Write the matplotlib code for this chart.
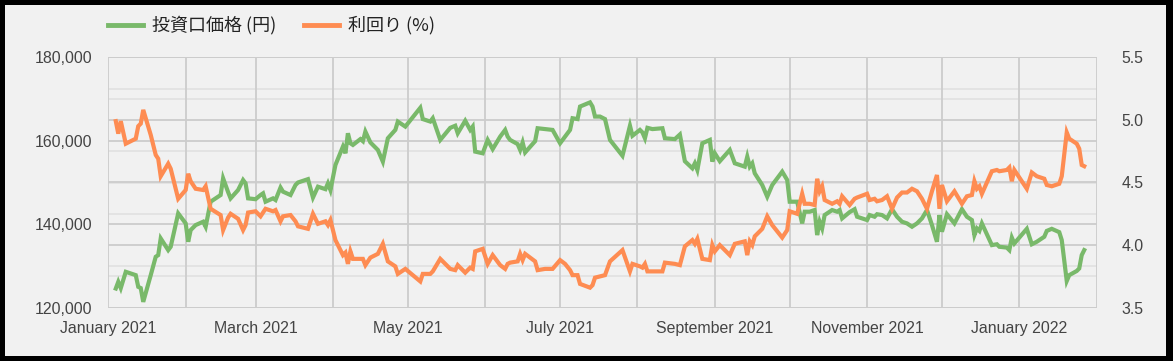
import matplotlib
matplotlib.use("Agg")
import matplotlib.pyplot as plt
from matplotlib.patches import Rectangle
from matplotlib.lines import Line2D
from matplotlib.transforms import blended_transform_factory
import pandas as pd

# ---------------- data ----------------
dates = [
    "2021-01-04", "2021-01-05", "2021-01-06", "2021-01-08", "2021-01-12", "2021-01-13", "2021-01-14", "2021-01-15",
    "2021-01-18", "2021-01-20", "2021-01-21", "2021-01-22", "2021-01-25", "2021-01-26", "2021-01-29",
    "2021-02-01", "2021-02-02", "2021-02-03", "2021-02-05", "2021-02-08", "2021-02-09", "2021-02-11",
    "2021-02-15", "2021-02-16", "2021-02-18", "2021-02-19", "2021-02-22", "2021-02-24", "2021-02-25", "2021-02-26",
    "2021-03-01", "2021-03-03", "2021-03-04", "2021-03-05", "2021-03-08", "2021-03-09", "2021-03-11", "2021-03-12",
    "2021-03-15", "2021-03-17", "2021-03-18", "2021-03-22", "2021-03-24", "2021-03-26", "2021-03-29", "2021-03-30",
    "2021-03-31", "2021-04-02", "2021-04-05", "2021-04-06", "2021-04-07", "2021-04-08", "2021-04-09", "2021-04-12",
    "2021-04-13", "2021-04-14", "2021-04-16", "2021-04-19", "2021-04-21", "2021-04-23", "2021-04-26", "2021-04-27",
    "2021-04-30", "2021-05-06", "2021-05-07", "2021-05-10", "2021-05-11", "2021-05-14", "2021-05-18", "2021-05-20",
    "2021-05-21", "2021-05-24", "2021-05-26", "2021-05-27", "2021-05-28", "2021-05-31", "2021-06-02", "2021-06-04",
    "2021-06-07", "2021-06-09", "2021-06-10", "2021-06-11", "2021-06-14", "2021-06-15", "2021-06-16", "2021-06-17",
    "2021-06-21", "2021-06-22", "2021-06-25", "2021-06-28", "2021-07-01", "2021-07-03", "2021-07-05", "2021-07-06",
    "2021-07-08", "2021-07-09", "2021-07-13", "2021-07-14", "2021-07-15", "2021-07-17", "2021-07-19", "2021-07-21",
    "2021-07-26", "2021-07-29", "2021-07-30", "2021-08-02", "2021-08-03", "2021-08-04", "2021-08-05", "2021-08-07",
    "2021-08-11", "2021-08-12", "2021-08-16", "2021-08-18", "2021-08-20", "2021-08-23", "2021-08-24", "2021-08-25",
    "2021-08-27", "2021-08-30", "2021-08-31", "2021-09-01", "2021-09-03", "2021-09-07", "2021-09-09", "2021-09-13",
    "2021-09-14", "2021-09-15", "2021-09-16", "2021-09-17", "2021-09-20", "2021-09-22", "2021-09-24", "2021-09-28",
    "2021-09-30", "2021-10-01", "2021-10-04", "2021-10-06", "2021-10-07", "2021-10-09", "2021-10-11", "2021-10-12",
    "2021-10-13", "2021-10-14", "2021-10-15", "2021-10-18", "2021-10-20", "2021-10-21", "2021-10-22", "2021-10-25",
    "2021-10-27", "2021-10-28", "2021-11-01", "2021-11-02", "2021-11-04", "2021-11-05", "2021-11-07", "2021-11-09",
    "2021-11-11", "2021-11-13", "2021-11-15", "2021-11-17", "2021-11-19", "2021-11-21", "2021-11-23", "2021-11-25",
    "2021-11-27", "2021-11-29", "2021-11-30", "2021-12-01", "2021-12-03", "2021-12-06", "2021-12-09", "2021-12-11",
    "2021-12-13", "2021-12-14", "2021-12-15", "2021-12-16", "2021-12-17", "2021-12-21", "2021-12-23", "2021-12-24",
    "2021-12-27", "2021-12-28", "2021-12-29", "2021-12-30", "2022-01-04", "2022-01-06", "2022-01-08", "2022-01-11",
    "2022-01-12", "2022-01-14", "2022-01-17", "2022-01-18", "2022-01-20", "2022-01-21", "2022-01-24", "2022-01-25",
    "2022-01-26", "2022-01-27",
]

price = [
    124600, 126200, 124700, 128600, 127800, 125000, 124700, 121400,
    127800, 132200, 132600, 136600, 133800, 134600, 142600,
    140200, 135800, 138600, 139800, 140600, 139400, 145400,
    147000, 151000, 147700, 146200, 148200, 150600, 149800, 146200,
    146000, 147000, 147400, 145400, 146200, 145800, 148800, 147800,
    147000, 149400, 150000, 150800, 146400, 149000, 148400, 149800,
    148200, 154200, 158600, 157000, 161800, 159400, 159000, 160400,
    159900, 162200, 159600, 157800, 155000, 160600, 162600, 164600,
    163400, 167900, 165200, 164600, 165400, 160200, 163100, 163600,
    161800, 164800, 162600, 163400, 157400, 157000, 160200, 158000,
    161000, 162600, 161000, 160200, 159200, 157800, 159600, 157200,
    159900, 163000, 162800, 162600, 159400, 161000, 162600, 165400,
    165200, 168200, 169200, 168200, 165800, 165800, 165200, 160200,
    156400, 163600, 161200, 162600, 162000, 160600, 163100, 162800,
    163000, 160600, 160400, 161500, 155100, 153400, 154600, 153000,
    159400, 160200, 155000, 157000, 155100, 157800, 154600, 153800,
    156200, 153800, 154600, 152200, 149400, 146600, 149400, 152600,
    150600, 145400, 145400, 140200, 143000, 143000, 143400, 137400,
    140600, 139000, 142200, 143400, 143000, 143400, 141400, 142900,
    143600, 141800, 141000, 142200, 141800, 142400, 142200, 141400,
    143600, 141800, 140600, 140200, 139400, 140200, 141400, 143400,
    139800, 135800, 142200, 138200, 142400, 140200, 143600, 141800,
    141000, 137400, 139000, 138400, 140200, 135000, 135200, 134600,
    134400, 133800, 136800, 135400, 138900, 135200, 135800, 137000,
    138400, 138900, 138100, 136200, 126400, 127800, 128800, 129400,
    132600, 133800,
]

yield_pct = [
    4.99, 4.89, 4.99, 4.81, 4.85, 4.95, 4.97, 5.08,
    4.88, 4.72, 4.69, 4.55, 4.65, 4.61, 4.37,
    4.44, 4.57, 4.51, 4.45, 4.44, 4.47, 4.29,
    4.24, 4.12, 4.22, 4.25, 4.21, 4.12, 4.16, 4.26,
    4.27, 4.23, 4.26, 4.29, 4.27, 4.28, 4.19, 4.23,
    4.24, 4.19, 4.15, 4.13, 4.25, 4.17, 4.19, 4.16,
    4.20, 4.04, 3.92, 3.94, 3.85, 3.95, 3.89, 3.89,
    3.89, 3.84, 3.90, 3.93, 4.01, 3.87, 3.83, 3.77,
    3.81, 3.71, 3.77, 3.77, 3.79, 3.89, 3.81, 3.80,
    3.84, 3.78, 3.82, 3.81, 3.95, 3.97, 3.85, 3.92,
    3.84, 3.81, 3.85, 3.86, 3.87, 3.93, 3.88, 3.93,
    3.87, 3.80, 3.81, 3.81, 3.88, 3.85, 3.80, 3.76,
    3.76, 3.69, 3.66, 3.68, 3.74, 3.75, 3.76, 3.87,
    3.96, 3.79, 3.85, 3.83, 3.82, 3.85, 3.79, 3.79,
    3.79, 3.86, 3.85, 3.84, 3.99, 4.04, 4.01, 4.05,
    3.89, 3.88, 4.00, 3.95, 4.00, 3.92, 4.01, 4.03,
    3.92, 4.03, 4.00, 4.07, 4.13, 4.23, 4.16, 4.06,
    4.12, 4.27, 4.25, 4.41, 4.33, 4.33, 4.32, 4.53,
    4.43, 4.47, 4.36, 4.33, 4.35, 4.33, 4.39, 4.32,
    4.37, 4.38, 4.41, 4.36, 4.37, 4.35, 4.36, 4.39,
    4.29, 4.38, 4.42, 4.42, 4.45, 4.43, 4.37, 4.29,
    4.43, 4.56, 4.29, 4.48, 4.35, 4.43, 4.33, 4.39,
    4.40, 4.51, 4.45, 4.47, 4.41, 4.59, 4.60, 4.59,
    4.60, 4.62, 4.51, 4.60, 4.45, 4.58, 4.55, 4.53,
    4.48, 4.47, 4.49, 4.55, 4.90, 4.85, 4.81, 4.77,
    4.64, 4.63,
]

series_names = ["投資口価格 (円)", "利回り (%)"]
price_ticks = [120000, 140000, 160000, 180000]
price_minor = [130000, 150000, 170000]
yield_ticks = [3.5, 4.0, 4.5, 5.0, 5.5]
yield_minor = [3.75, 4.25, 4.75, 5.25]
x_start, x_end = "2021-01-01", "2022-02-01"

# ---------------- styling ----------------
GREEN = "#79b96a"
ORANGE = "#fe8c52"
BG = "#f1f1f1"
MAJOR = "#cccccc"
MINOR = "#e2e2e2"
TXT = "#444444"
FS = 11.4

plt.rcParams["font.family"] = ["Liberation Sans", "DejaVu Sans"]

W, H = 1173, 361
fig = plt.figure(figsize=(W / 100, H / 100), dpi=100)
fig.patch.set_facecolor("black")
fig.add_artist(Rectangle((5 / W, 5 / H), (W - 12) / W, (H - 10) / H,
                         transform=fig.transFigure, facecolor=BG, edgecolor="none", zorder=0))

L, R, T, B = 108.3, 1096.7, 57.3, 307.7
ax = fig.add_axes([L / W, (H - B) / H, (R - L) / W, (B - T) / H])
ax.patch.set_visible(False)
ax2 = ax.twinx()
ax2.patch.set_visible(False)

d = pd.to_datetime(dates)
xs, xe = pd.Timestamp(x_start), pd.Timestamp(x_end)

ax.set_xlim(xs, xe)
ax.set_ylim(price_ticks[0], price_ticks[-1])
ax2.set_ylim(yield_ticks[0], yield_ticks[-1])

# month gridlines / labels
months = pd.date_range(xs, xe, freq="MS")
ax.set_xticks(months)
ax.set_xticklabels([m.strftime("%B %Y") if (m.month % 2 == 1 and m < xe) else "" for m in months])
for m in months:
    ax.axvline(m, color=MAJOR, lw=1.3, zorder=1)

# horizontal gridlines (all drawn in the lower axes so lines stay on top)
bt = blended_transform_factory(ax.transAxes, ax2.transData)
for v in price_minor:
    ax.axhline(v, color=MINOR, lw=1.3, zorder=0.8)
for v in yield_minor:
    ax.plot([0, 1], [v, v], transform=bt, color=MINOR, lw=1.3, zorder=0.8)
for v in price_ticks:
    ax.axhline(v, color=MAJOR, lw=1.3, zorder=1)
for v in yield_ticks:
    ax.plot([0, 1], [v, v], transform=bt, color=MAJOR, lw=1.3, zorder=1)

ax.set_yticks(price_ticks)
ax.set_yticklabels([f"{v:,}" for v in price_ticks])
ax2.set_yticks(yield_ticks)
ax2.set_yticklabels([f"{v:.1f}" for v in yield_ticks])

for a in (ax, ax2):
    for s in a.spines.values():
        s.set_visible(False)
ax.tick_params(axis="both", length=0, labelsize=FS, labelcolor=TXT)
ax.tick_params(axis="y", pad=11.5)
ax.tick_params(axis="x", pad=9.5)
ax2.tick_params(axis="y", which="both", length=0, labelsize=FS, labelcolor=TXT, pad=18)
for t in ax2.yaxis.get_major_ticks():
    t.set_pad(18)

ax.plot(d, price, color=GREEN, lw=3.0, solid_joinstyle="miter", zorder=3)
ax2.plot(d, yield_pct, color=ORANGE, lw=3.0, solid_joinstyle="miter", zorder=3)

handles = [Line2D([], [], color=GREEN, lw=3.5), Line2D([], [], color=ORANGE, lw=3.5)]
fig.legend(handles, series_names, loc="upper left", bbox_to_anchor=(108 / W, 1 - 16 / H),
           ncol=2, frameon=False, borderpad=0, borderaxespad=0, handlelength=1.95,
           handletextpad=0.5, columnspacing=1.5,
           prop={"family": ["Noto Sans CJK JP", "DejaVu Sans"], "size": 13}, labelcolor="#222222")

fig.savefig("out.png", dpi=100, facecolor=fig.get_facecolor())
